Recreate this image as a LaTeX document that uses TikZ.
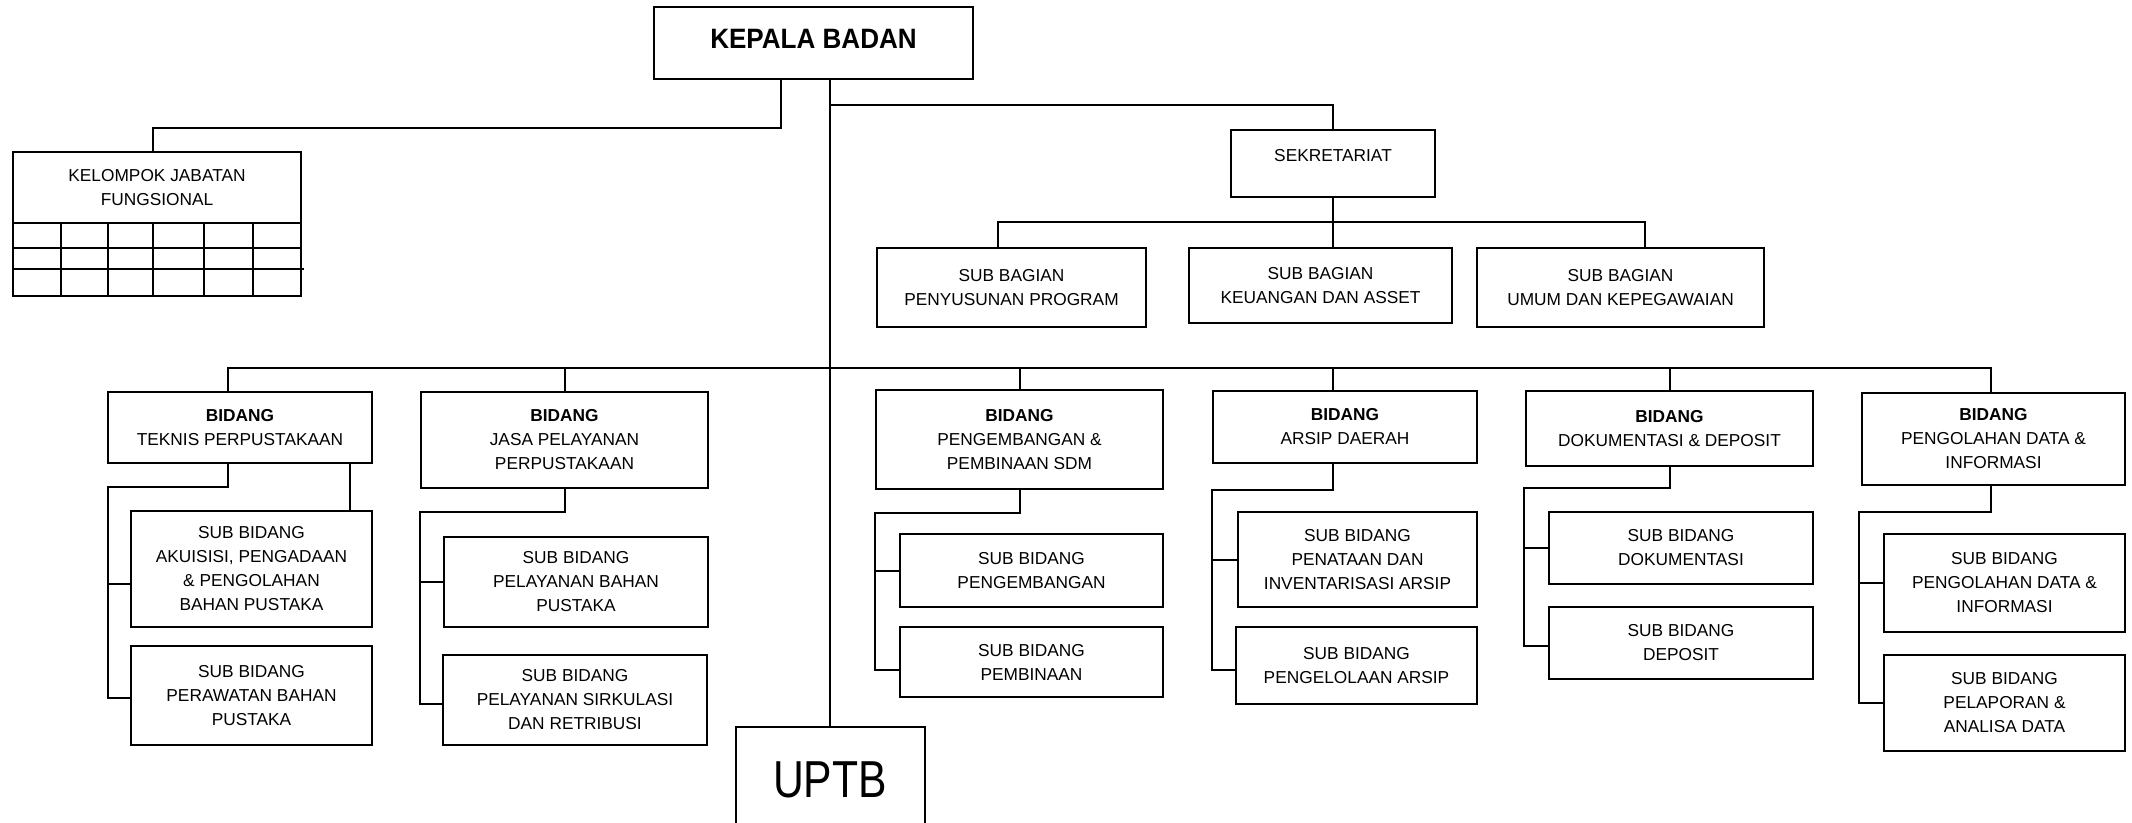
\documentclass[tikz,border=0pt]{standalone}
\usepackage{fontspec}
\setmainfont{Liberation Sans}
\usepackage{graphicx}
\tikzset{
    x=1pt, y=-1pt, % one unit is one pixel of the chart, y runs downward
    unit/.style={draw, line width=2pt, align=center, inner sep=0pt,
        font=\fontsize{17.3}{24}\selectfont}, % sets the properties for each box
    link/.style={line width=2pt}, % the lines between the boxes
    cell/.style={line width=1.6pt}, % the small table under the group box
}

\begin{document}
\begin{tikzpicture}
    \fill[white] (0,0) rectangle (2132,822);
    \useasboundingbox (0,0) rectangle (2132,822);
    \node[unit, minimum width=319pt, minimum height=72pt, text depth=9pt, font=\fontsize{28}{32}\selectfont\bfseries] (kb) at (813.5,43) {\scalebox{0.93}[1]{KEPALA BADAN}};
    \node[unit, minimum width=288pt, minimum height=71pt] (kjf) at (157,187.5) {KELOMPOK JABATAN\\FUNGSIONAL};
    \node[unit, minimum width=204pt, minimum height=67pt, text depth=16pt] (sek) at (1333,163.5) {SEKRETARIAT};
    \node[unit, minimum width=269pt, minimum height=79pt] (sb1) at (1011.5,287.5) {SUB BAGIAN\\PENYUSUNAN PROGRAM};
    \node[unit, minimum width=263pt, minimum height=75pt] (sb2) at (1320.5,285.5) {SUB BAGIAN\\KEUANGAN DAN ASSET};
    \node[unit, minimum width=287pt, minimum height=79pt] (sb3) at (1620.5,287.5) {SUB BAGIAN\\UMUM DAN KEPEGAWAIAN};
    \node[unit, minimum width=264pt, minimum height=71pt] (b1) at (240,427.5) {\textbf{BIDANG}\\TEKNIS PERPUSTAKAAN};
    \node[unit, minimum width=241pt, minimum height=116pt] (s1a) at (251.5,569) {SUB BIDANG\\AKUISISI, PENGADAAN\\\& PENGOLAHAN\\BAHAN PUSTAKA};
    \node[unit, minimum width=241pt, minimum height=99pt] (s1b) at (251.5,695.5) {SUB BIDANG\\PERAWATAN BAHAN\\PUSTAKA};
    \node[unit, minimum width=287pt, minimum height=96pt] (b2) at (564.5,440) {\textbf{BIDANG}\\JASA PELAYANAN\\PERPUSTAKAAN};
    \node[unit, minimum width=264pt, minimum height=90pt] (s2a) at (576,582) {SUB BIDANG\\PELAYANAN BAHAN\\PUSTAKA};
    \node[unit, minimum width=264pt, minimum height=90pt] (s2b) at (575,700) {SUB BIDANG\\PELAYANAN SIRKULASI\\DAN RETRIBUSI};
    \node[unit, minimum width=287pt, minimum height=99pt] (b3) at (1019.5,439.5) {\textbf{BIDANG}\\PENGEMBANGAN \&\\PEMBINAAN SDM};
    \node[unit, minimum width=263pt, minimum height=73pt] (s3a) at (1031.5,570.5) {SUB BIDANG\\PENGEMBANGAN};
    \node[unit, minimum width=263pt, minimum height=70pt] (s3b) at (1031.5,662) {SUB BIDANG\\PEMBINAAN};
    \node[unit, minimum width=264pt, minimum height=72pt] (b4) at (1345,427) {\textbf{BIDANG}\\ARSIP DAERAH};
    \node[unit, minimum width=239pt, minimum height=95pt] (s4a) at (1357.5,559.5) {SUB BIDANG\\PENATAAN DAN\\INVENTARISASI ARSIP};
    \node[unit, minimum width=241pt, minimum height=77pt] (s4b) at (1356.5,665.5) {SUB BIDANG\\PENGELOLAAN ARSIP};
    \node[unit, minimum width=287pt, minimum height=75pt] (b5) at (1669.5,428.5) {\textbf{BIDANG}\\DOKUMENTASI \& DEPOSIT};
    \node[unit, minimum width=264pt, minimum height=72pt] (s5a) at (1681,548) {SUB BIDANG\\DOKUMENTASI};
    \node[unit, minimum width=264pt, minimum height=72pt] (s5b) at (1681,643) {SUB BIDANG\\DEPOSIT};
    \node[unit, minimum width=263pt, minimum height=92pt] (b6) at (1993.5,439) {\textbf{BIDANG}\\PENGOLAHAN DATA \&\\INFORMASI};
    \node[unit, minimum width=241pt, minimum height=98pt] (s6a) at (2004.5,583) {SUB BIDANG\\PENGOLAHAN DATA \&\\INFORMASI};
    \node[unit, minimum width=241pt, minimum height=96pt] (s6b) at (2004.5,703) {SUB BIDANG\\PELAPORAN \&\\ANALISA DATA};
    \node[unit, minimum width=189pt, minimum height=105pt, font=\fontsize{52}{60}\selectfont] (uptb) at (830,779.5) {\scalebox{0.82}[1]{UPTB}};
    \coordinate (sekbus) at (1333,222);
    \coordinate (bus) at (830,367.5);
    \draw[cell] (13,223) rectangle (301,296)
        (13,248) -- (301,248)
        (13,269) -- (304,269)
        (61,223) -- (61,296)
        (108,223) -- (108,296)
        (153,223) -- (153,296)
        (204,223) -- (204,296)
        (253,223) -- (253,296);
    \draw[link] (kb.south -| uptb.north) -- (uptb.north);
    \draw[link] ([xshift=-32.5pt]kb.south) -- ++(0,48) -| ([xshift=-4pt]kjf.north);
    \draw[link] ([yshift=-25pt]kb.south -| uptb.north) -| (sek.north);
    \draw[link] (sek.south) -- (sek.south |- sb2.north);
    \draw[link] ([xshift=-13.5pt]sb1.north) |- (sekbus) -| ([xshift=24.5pt]sb3.north);
    \draw[link] ([xshift=-12pt]b1.north) |- (bus) -| ([xshift=-2.5pt]b6.north);
    \draw[link] (b2.north) -- (b2.north |- bus)
        (b3.north) -- (b3.north |- bus)
        ([xshift=-12pt]b4.north) -- ([xshift=-12pt]b4.north |- bus)
        (b5.north) -- (b5.north |- bus);
    \draw[link] ([xshift=-12pt]b1.south) -- ++(0,23) -| ([xshift=-22.5pt, yshift=-2.5pt]s1b.west) -- ([yshift=-2.5pt]s1b.west);
    \draw[link] ([xshift=-22.5pt, yshift=-15pt]s1a.west) -- ([yshift=-15pt]s1a.west);
    \draw[link] ([xshift=-23pt]s1a.north east) -- ([xshift=-23pt]s1a.north east |- b1.south);
    \draw[link] (b2.south) -- ++(0,23) -| ([xshift=-22.5pt, yshift=-4pt]s2b.west) -- ([yshift=-4pt]s2b.west);
    \draw[link] ([xshift=-23.5pt]s2a.west) -- (s2a.west);
    \draw[link] (b3.south) -- ++(0,23) -| ([xshift=-24pt, yshift=-8pt]s3b.west) -- ([yshift=-8pt]s3b.west);
    \draw[link] ([xshift=-24pt]s3a.west) -- (s3a.west);
    \draw[link] ([xshift=-12pt]b4.south) -- ++(0,26) -| ([xshift=-23pt, yshift=-4.5pt]s4b.west) -- ([yshift=-4.5pt]s4b.west);
    \draw[link] ([xshift=-25pt]s4a.west) -- (s4a.west);
    \draw[link] (b5.south) -- ++(0,21) -| ([xshift=-24.5pt, yshift=-3pt]s5b.west) -- ([yshift=-3pt]s5b.west);
    \draw[link] ([xshift=-24.5pt]s5a.west) -- (s5a.west);
    \draw[link] ([xshift=-2.5pt]b6.south) -- ++(0,26) -| ([xshift=-24pt]s6b.west) -- (s6b.west);
    \draw[link] ([xshift=-24pt]s6a.west) -- (s6a.west);
\end{tikzpicture}
\end{document}
